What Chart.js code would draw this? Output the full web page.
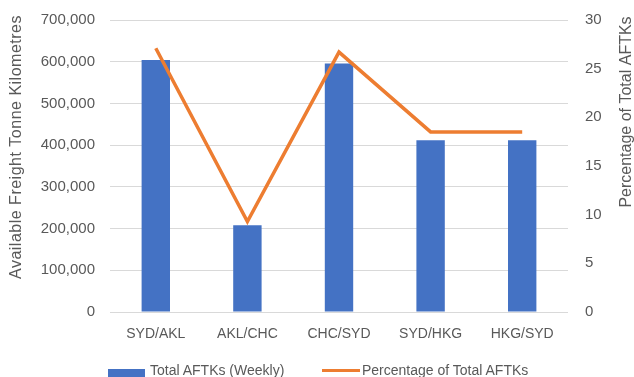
<!DOCTYPE html>
<html>
<head>
<meta charset="utf-8">
<script src="https://cdn.jsdelivr.net/npm/chart.js@4"></script>
<style>
  html, body { margin: 0; padding: 0; background: #ffffff; }
  #wrap { position: relative; width: 634px; height: 377px; overflow: hidden; }
  #legend {
    position: absolute; left: 0; top: 361px; width: 634px; height: 16px;
    font: 14px "Liberation Sans", Arial, sans-serif; color: #595959;
  }
  .lg-item { position: absolute; top: 0; display: flex; align-items: center; height: 18px; white-space: nowrap; }
  .lg-box { width: 37px; height: 9px; background: #4472C4; margin-right: 5px; margin-top: 6px; }
  .lg-line { width: 38px; height: 3px; background: #ED7D31; margin-right: 2px; }
</style>
</head>
<body>
<div id="wrap">
  <canvas id="aftkChart" width="634" height="377"></canvas>
  <div id="legend">
    <div class="lg-item" style="left:108px"><span class="lg-box"></span>Total AFTKs (Weekly)</div>
    <div class="lg-item" style="left:322px"><span class="lg-line"></span>Percentage of Total AFTKs</div>
  </div>
</div>
<script>
// Weekly freight capacity per route
const routes = ['SYD/AKL', 'AKL/CHC', 'CHC/SYD', 'SYD/HKG', 'HKG/SYD'];
const weeklyAftks = [604000, 208000, 596000, 412000, 412000];
const pctOfTotal = [27.1, 9.3, 26.7, 18.5, 18.5];

const leftTicks = { min: 0, max: 700000, step: 100000 };
const rightTicks = { min: 0, max: 30, step: 5 };

const textColor = '#595959';
const tickFont = { family: 'Liberation Sans, Arial, sans-serif', size: 14 };
const valueFont = { family: 'Liberation Sans, Arial, sans-serif', size: 15 };

// axis titles both read bottom-to-top, so draw them by hand
const axisTitles = {
  id: 'axisTitles',
  afterDraw(chart) {
    const ctx = chart.ctx;
    ctx.save();
    ctx.fillStyle = textColor;
    ctx.font = '16px "Liberation Sans", Arial, sans-serif';
    ctx.textAlign = 'center';
    ctx.textBaseline = 'middle';

    ctx.save();
    ctx.letterSpacing = '0.5px';
    ctx.translate(17, 147);
    ctx.rotate(-Math.PI / 2);
    ctx.fillText('Available Freight Tonne Kilometres', 0, 0);
    ctx.restore();

    ctx.save();
    ctx.translate(627, 112);
    ctx.rotate(-Math.PI / 2);
    ctx.fillText('Percentage of Total AFTKs', 0, 0);
    ctx.restore();

    ctx.restore();
  }
};

// tick padding would otherwise push the plot area down
function fixVertical(width) {
  return (scale) => {
    scale.width = width;
    scale.paddingTop = 0;
    scale.paddingBottom = 0;
  };
}

new Chart(document.getElementById('aftkChart'), {
  data: {
    labels: routes,
    datasets: [
      {
        type: 'line',
        label: 'Percentage of Total AFTKs',
        data: pctOfTotal,
        yAxisID: 'yPct',
        borderColor: '#ED7D31',
        borderWidth: 3.5,
        pointRadius: 0,
        tension: 0,
        order: 0
      },
      {
        type: 'bar',
        label: 'Total AFTKs (Weekly)',
        data: weeklyAftks,
        yAxisID: 'yAftk',
        backgroundColor: '#4472C4',
        categoryPercentage: 1,
        barPercentage: 0.31,
        order: 1
      }
    ]
  },
  options: {
    responsive: false,
    animation: false,
    layout: { padding: { top: 20, left: 0, right: 0, bottom: 0 } },
    plugins: {
      legend: { display: false },
      tooltip: { enabled: false }
    },
    scales: {
      x: {
        grid: { display: false, drawTicks: false },
        border: { display: false },
        ticks: { color: textColor, font: tickFont, padding: 14, maxRotation: 0 },
        afterFit: (scale) => { scale.height = 65; }
      },
      yAftk: {
        position: 'left',
        min: leftTicks.min,
        max: leftTicks.max,
        grid: { color: '#D9D9D9', lineWidth: 1, drawTicks: false },
        border: { display: false },
        ticks: {
          stepSize: leftTicks.step,
          color: textColor,
          font: valueFont,
          padding: 15,
          callback: (v) => v.toLocaleString('en-US')
        },
        afterFit: fixVertical(110)
      },
      yPct: {
        position: 'right',
        min: rightTicks.min,
        max: rightTicks.max,
        grid: { display: false, drawTicks: false },
        border: { display: false },
        ticks: { stepSize: rightTicks.step, color: textColor, font: valueFont, padding: 17 },
        afterFit: fixVertical(66)
      }
    }
  },
  plugins: [axisTitles]
});
</script>
</body>
</html>
